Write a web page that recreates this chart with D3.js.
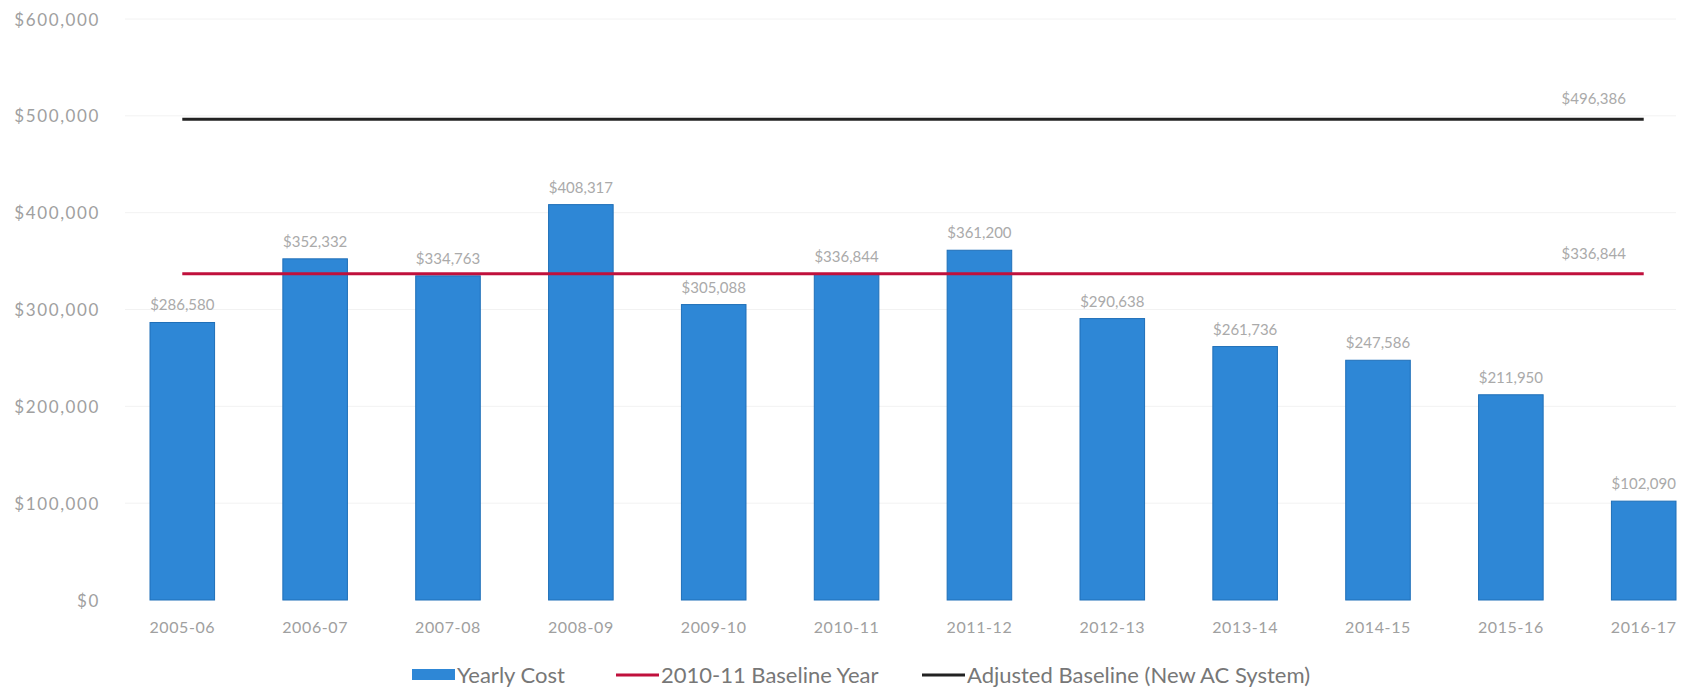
<!DOCTYPE html>
<html>
<head>
<meta charset="utf-8">
<script src="https://cdn.jsdelivr.net/npm/d3@7"></script>
<style>
  html, body { margin: 0; padding: 0; background: #fff; overflow: hidden; }
  svg { display: block; }
  svg text { font-family: Lato, "Open Sans", sans-serif; }
</style>
</head>
<body>
<div id="chart"></div>
<script>
// chart data
var years = ["2005-06", "2006-07", "2007-08", "2008-09", "2009-10", "2010-11",
             "2011-12", "2012-13", "2013-14", "2014-15", "2015-16", "2016-17"];
var yearlyCost = [286580, 352332, 334763, 408317, 305088, 336844,
                  361200, 290638, 261736, 247586, 211950, 102090];
var baseline = 336844;          // 2010-11 Baseline Year
var adjustedBaseline = 496386;  // Adjusted Baseline (New AC System)
var yTicks = [0, 100000, 200000, 300000, 400000, 500000, 600000];
var legendLabels = ["Yearly Cost", "2010-11 Baseline Year", "Adjusted Baseline (New AC System)"];

var outerWidth = 1685, outerHeight = 694;
var margin = {top: 19, right: 9, bottom: 94, left: 150};
var innerWidth = outerWidth - margin.left - margin.right,
    innerHeight = outerHeight - margin.top - margin.bottom;

var blue = "#2e87d6", red = "#c0103c", black = "#222";

var svg = d3.select("#chart").append("svg")
    .attr("width", outerWidth)
    .attr("height", outerHeight);

var g = svg.append("g")
    .attr("transform", "translate(" + margin.left + "," + margin.top + ")");

var x = d3.scaleBand()
    .domain(years)
    .range([0, innerWidth])
    .paddingInner(0.514)
    .paddingOuter(0);

var y = d3.scaleLinear()
    .domain([0, 600000])
    .range([innerHeight, 0]);

// faint gridlines
g.append("g")
    .selectAll("line")
    .data(yTicks.slice(1))
    .enter().append("line")
    .attr("x1", -25).attr("x2", innerWidth)
    .attr("y1", function(d) { return y(d); })
    .attr("y2", function(d) { return y(d); })
    .attr("stroke", "#f2f2f2")
    .attr("stroke-width", 1);

// y axis (labels only)
var fmt = function(d) { return "$" + d3.format(",")(d); };
var yAxis = g.append("g")
    .call(d3.axisLeft(y).tickValues(yTicks).tickFormat(fmt).tickSize(0).tickPadding(50));
yAxis.attr("fill", null).attr("font-size", null).attr("font-family", null);
yAxis.select(".domain").remove();
yAxis.selectAll("text")
    .attr("fill", "#a0a0a0")
    .attr("text-anchor", "end")
    .attr("dy", "6")
    .style("font-size", "17px")
    .style("letter-spacing", "1.6px");

// x axis (labels only)
var xAxis = g.append("g")
    .attr("transform", "translate(0," + innerHeight + ")")
    .call(d3.axisBottom(x).tickSize(0).tickPadding(22));
xAxis.attr("fill", null).attr("font-size", null).attr("font-family", null);
xAxis.select(".domain").remove();
xAxis.selectAll("text")
    .attr("fill", "#a0a0a0")
    .attr("text-anchor", "middle")
    .attr("dy", "11")
    .style("font-size", "16px")
    .style("letter-spacing", "0.6px");

// bars
g.selectAll(".bar")
    .data(yearlyCost)
    .enter().append("rect")
    .attr("class", "bar")
    .attr("x", function(d, i) { return x(years[i]); })
    .attr("width", x.bandwidth())
    .attr("y", function(d) { return y(d); })
    .attr("height", function(d) { return innerHeight - y(d); })
    .attr("fill", blue)
    .attr("stroke", "#1f6fb8")
    .attr("stroke-width", 1);

// bar value labels
g.selectAll(".barLabel")
    .data(yearlyCost)
    .enter().append("text")
    .attr("class", "barLabel")
    .attr("x", function(d, i) { return x(years[i]) + x.bandwidth() / 2; })
    .attr("y", function(d) { return y(d) - 12; })
    .attr("text-anchor", "middle")
    .attr("fill", "#aaa")
    .style("font-size", "15px")
    .text(fmt);

// baseline lines, drawn from first to last category centre
var lineGen = d3.line()
    .x(function(d) { return x(d.year) + x.bandwidth() / 2; })
    .y(function(d) { return y(d.value); });

var lines = [
  {value: adjustedBaseline, color: black},
  {value: baseline, color: red}
];

lines.forEach(function(l) {
  var pts = years.map(function(yr) { return {year: yr, value: l.value}; });
  g.append("path")
      .datum(pts)
      .attr("d", lineGen)
      .attr("fill", "none")
      .attr("stroke", l.color)
      .attr("stroke-width", 3);
  g.append("text")
      .attr("x", x(years[years.length - 1]) + x.bandwidth() / 2 - 50)
      .attr("y", y(l.value) - 15)
      .attr("text-anchor", "middle")
      .attr("fill", "#aaa")
      .style("font-size", "15px")
      .text(fmt(l.value));
});

// legend
var legend = svg.append("g").attr("transform", "translate(0,675)");
var legendItems = [
  {x: 412, label: legendLabels[0], type: "rect", color: blue},
  {x: 616, label: legendLabels[1], type: "line", color: red},
  {x: 922, label: legendLabels[2], type: "line", color: black}
];
legendItems.forEach(function(it) {
  if (it.type === "rect") {
    legend.append("rect")
        .attr("x", it.x).attr("y", -6)
        .attr("width", 43).attr("height", 11)
        .attr("fill", blue);
  } else {
    legend.append("line")
        .attr("x1", it.x).attr("x2", it.x + 43)
        .attr("y1", 0).attr("y2", 0)
        .attr("stroke", it.color)
        .attr("stroke-width", 3);
  }
  legend.append("text")
      .attr("x", it.x + 45)
      .attr("y", 8)
      .attr("fill", "#777")
      .style("font-size", "22px")
      .text(it.label);
});
</script>
</body>
</html>
